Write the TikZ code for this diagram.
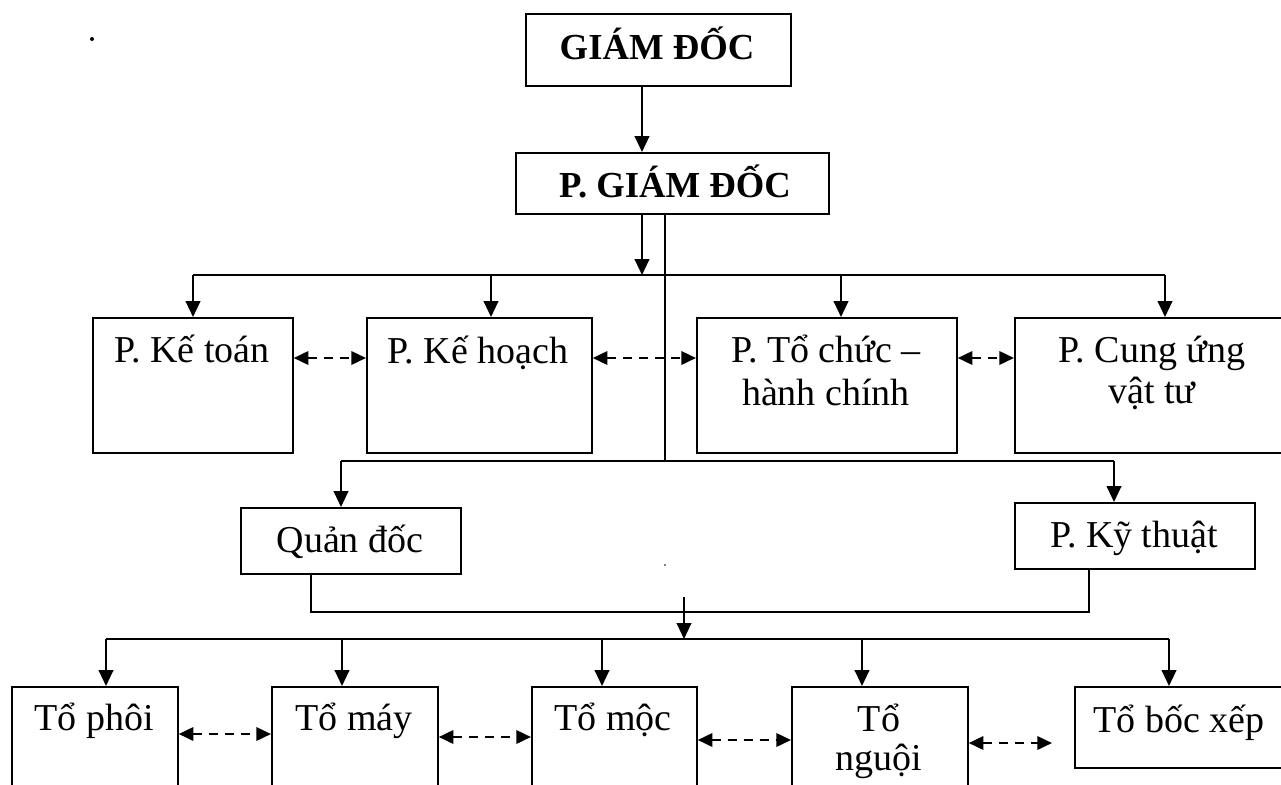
\documentclass[tikz,border=0pt]{standalone}
\usepackage{fontspec}
\setmainfont{Liberation Serif}
\usetikzlibrary{arrows.meta,calc}
\newdimen\pxu \pxu=0.75pt
\begin{document}
\begin{tikzpicture}[x=0.75pt,y=-0.75pt,
  box/.style={draw, line width=1.3pt, inner sep=0pt, anchor=north west},
  txt/.style={font=\fontsize{28.5}{33}\selectfont, inner sep=0pt, anchor=base},
  btxt/.style={font=\fontsize{27.5}{33}\selectfont\bfseries, inner sep=0pt, anchor=base},
  arr/.style={line width=1.6pt, -{Triangle[length=12pt,width=11pt]}},
  plain/.style={line width=1.1pt},
  darr/.style={line width=1.9pt, dash pattern=on 7pt off 5pt,
    {Triangle[length=11pt,width=10pt]}-{Triangle[length=11pt,width=10pt]}}
]
\useasboundingbox (0,0) rectangle (1281,785);
\clip (0,0) rectangle (1281,785);

% boxes
\node[box, minimum width=265\pxu, minimum height=72\pxu] (gd) at (525,13) {};
\node[box, minimum width=313\pxu, minimum height=61\pxu] (pgd) at (515,152) {};
\node[box, minimum width=200\pxu, minimum height=135\pxu] (kt) at (92,317) {};
\node[box, minimum width=225\pxu, minimum height=135\pxu] (kh) at (366,317) {};
\node[box, minimum width=260\pxu, minimum height=135\pxu] (tc) at (696,317) {};
\node[box, minimum width=276\pxu, minimum height=135\pxu] (cu) at (1014,317) {};
\node[box, minimum width=220\pxu, minimum height=66\pxu] (qd) at (240,507) {};
\node[box, minimum width=240\pxu, minimum height=66\pxu] (kyt) at (1014,502) {};
\node[box, minimum width=166\pxu, minimum height=130\pxu] (phoi) at (11,686) {};
\node[box, minimum width=166\pxu, minimum height=130\pxu] (may) at (271,686) {};
\node[box, minimum width=165\pxu, minimum height=130\pxu] (moc) at (531,686) {};
\node[box, minimum width=176\pxu, minimum height=130\pxu] (nguoi) at (791,686) {};
\node[box, minimum width=212\pxu, minimum height=81\pxu] (bx) at (1074,686) {};

% texts
\node[btxt] (gdT) at (657,59) {GIÁM ĐỐC};
\node[btxt] (pgdT) at (675,197) {P. GIÁM ĐỐC};
\node[txt] (ktT) at (192,362) {P. Kế toán};
\node[txt] (khT) at (478,363) {P. Kế hoạch};
\node[txt] (tcT1) at (826,362) {P. Tổ chức –};
\node[txt] (tcT2) at (826,405) {hành chính};
\node[txt] (cuT1) at (1152,362) {P. Cung ứng};
\node[txt] (cuT2) at (1152,403) {vật tư};
\node[txt] (qdT) at (350,552) {Quản đốc};
\node[txt] (kytT) at (1134,547) {P. Kỹ thuật};
\node[txt] (phoiT) at (94,730) {Tổ phôi};
\node[txt] (mayT) at (354,730) {Tổ máy};
\node[txt] (mocT) at (613,730) {Tổ mộc};
\node[txt] (nguoiT1) at (879,731) {Tổ};
\node[txt] (nguoiT2) at (879,770) {nguội};
\node[txt] (bxT) at (1179,732) {Tổ bốc xếp};

% coordinates
\coordinate (a1) at (642,0);
\coordinate (v1) at (665,0);
\coordinate (bus1) at (0,275);
\coordinate (b1a) at (193,275);
\coordinate (b1b) at (491,275);
\coordinate (b1c) at (841,275);
\coordinate (b1d) at (1165,275);
\coordinate (bus2) at (0,461);
\coordinate (b2a) at (341,461);
\coordinate (b2b) at (1114,461);
\coordinate (j1) at (311,612);
\coordinate (j2) at (1089,612);
\coordinate (s3) at (684,597);
\coordinate (bus3) at (0,639);
\coordinate (b3a) at (106,639);
\coordinate (b3b) at (342,639);
\coordinate (b3c) at (602,639);
\coordinate (b3d) at (862,639);
\coordinate (b3e) at (1169,639);
\coordinate (dr1) at (0,358);
\coordinate (d1) at (0,734);
\coordinate (d2) at (0,737);
\coordinate (d3) at (0,740);
\coordinate (d4e) at (1052,743);

% top connectors
\draw[arr] (a1 |- gd.south) -- (a1 |- pgd.north);
\draw[arr] (a1 |- pgd.south) -- (a1 |- bus1);
\draw[plain] (b1a) -- (b1d);
\draw[arr] (b1a) -- (b1a |- kt.north);
\draw[arr] (b1b) -- (b1b |- kh.north);
\draw[arr] (b1c) -- (b1c |- tc.north);
\draw[arr] (b1d) -- (b1d |- cu.north);
\draw[plain] (v1 |- pgd.south) -- (v1 |- bus2);
\draw[plain] (b2a) -- (b2b);
\draw[arr] (b2a) -- (b2a |- qd.north);
\draw[arr] (b2b) -- (b2b |- kyt.north);
\draw[plain] (j1 |- qd.south) -- (j1) -- (j2) -- (j2 |- kyt.south);
\draw[arr] (s3) -- (s3 |- bus3);
\draw[plain] (b3a) -- (b3e);
\draw[arr] (b3a) -- (b3a |- phoi.north);
\draw[arr] (b3b) -- (b3b |- may.north);
\draw[arr] (b3c) -- (b3c |- moc.north);
\draw[arr] (b3d) -- (b3d |- nguoi.north);
\draw[arr] (b3e) -- (b3e |- bx.north);

% dashed links
\draw[darr] (dr1 -| kt.east) -- (dr1 -| kh.west);
\draw[darr] (dr1 -| kh.east) -- (dr1 -| tc.west);
\draw[darr] (dr1 -| tc.east) -- (dr1 -| cu.west);
\draw[darr] (d1 -| phoi.east) -- (d1 -| may.west);
\draw[darr] (d2 -| may.east) -- (d2 -| moc.west);
\draw[darr] (d3 -| moc.east) -- (d3 -| nguoi.west);
\draw[darr] (d4e -| nguoi.east) -- (d4e);

% stray dots
\fill (92,39) circle (2);
\fill (665,565) circle (0.8);
\end{tikzpicture}
\end{document}
